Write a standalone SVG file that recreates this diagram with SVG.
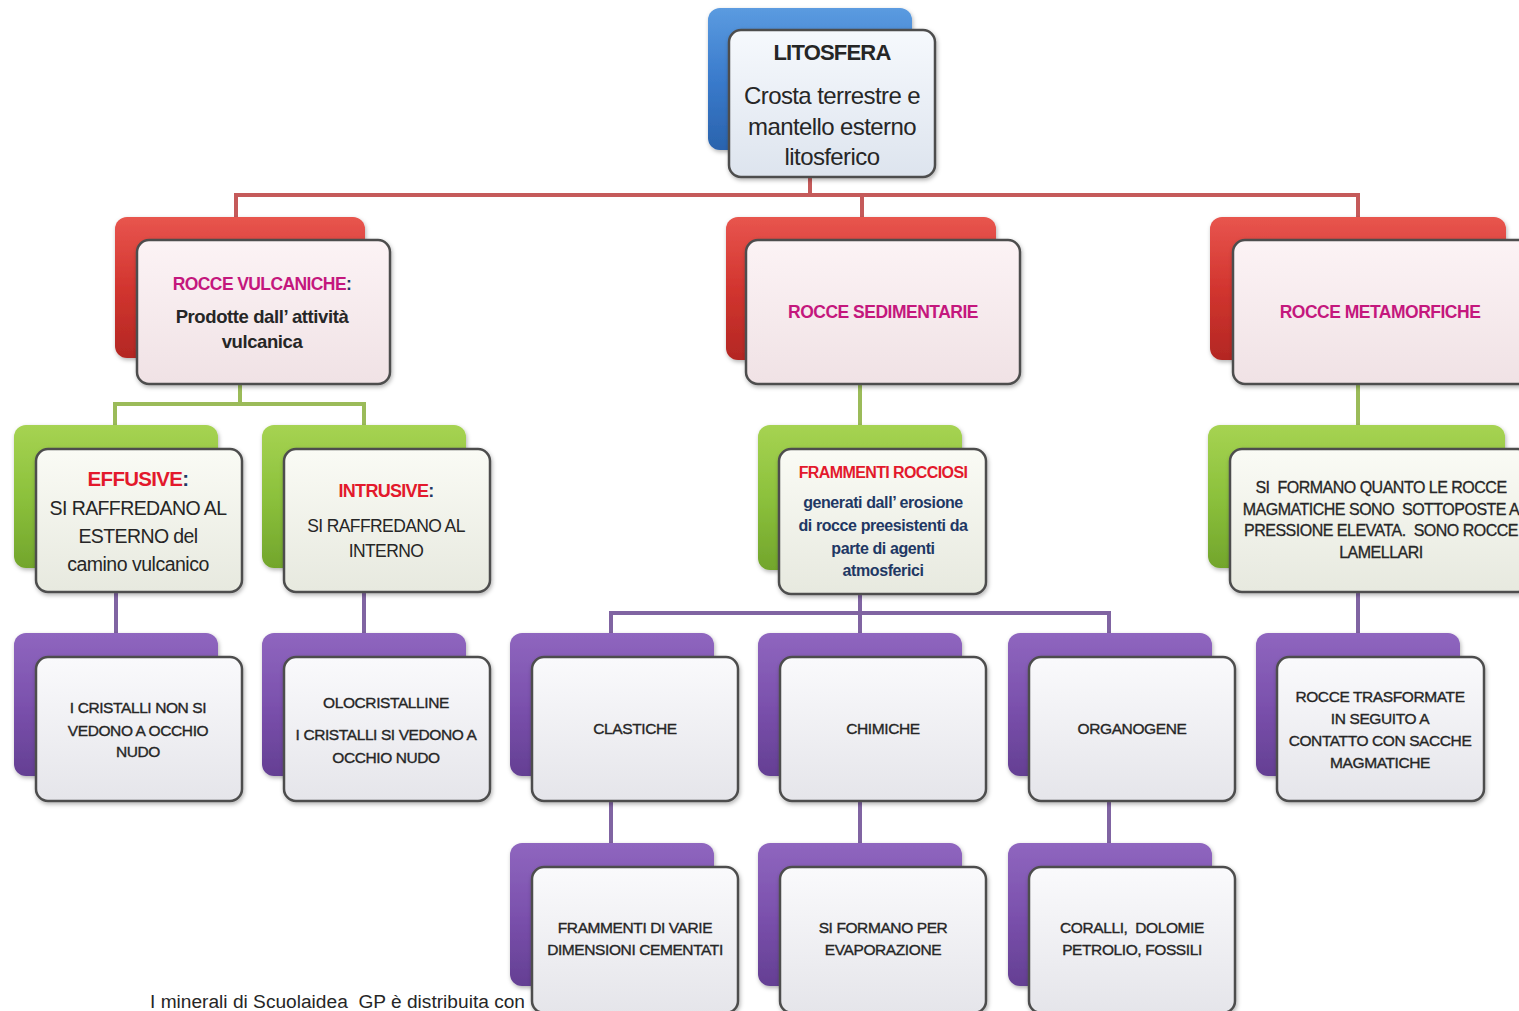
<svg xmlns="http://www.w3.org/2000/svg" width="1519" height="1011" viewBox="0 0 1519 1011">
<defs>
<linearGradient id="gBlue" x1="0" y1="0" x2="0" y2="1"><stop offset="0" stop-color="#5b9be0"/><stop offset="0.5" stop-color="#3a7bcc"/><stop offset="1" stop-color="#2a63ad"/></linearGradient>
<linearGradient id="gRed" x1="0" y1="0" x2="0" y2="1"><stop offset="0" stop-color="#e8554e"/><stop offset="0.5" stop-color="#d2352f"/><stop offset="1" stop-color="#b32723"/></linearGradient>
<linearGradient id="gGreen" x1="0" y1="0" x2="0" y2="1"><stop offset="0" stop-color="#a6d352"/><stop offset="0.5" stop-color="#8cc13c"/><stop offset="1" stop-color="#72a52c"/></linearGradient>
<linearGradient id="gPurple" x1="0" y1="0" x2="0" y2="1"><stop offset="0" stop-color="#8f66bf"/><stop offset="0.5" stop-color="#7b51ad"/><stop offset="1" stop-color="#643f93"/></linearGradient>
<linearGradient id="fBlue" x1="0" y1="0" x2="0" y2="1"><stop offset="0" stop-color="#f6f9fd"/><stop offset="1" stop-color="#dde4ee"/></linearGradient>
<linearGradient id="fRed" x1="0" y1="0" x2="0" y2="1"><stop offset="0" stop-color="#fcf3f5"/><stop offset="1" stop-color="#f0e2e5"/></linearGradient>
<linearGradient id="fGreen" x1="0" y1="0" x2="0" y2="1"><stop offset="0" stop-color="#fafbf5"/><stop offset="1" stop-color="#e7e9df"/></linearGradient>
<linearGradient id="fPurple" x1="0" y1="0" x2="0" y2="1"><stop offset="0" stop-color="#fafafc"/><stop offset="1" stop-color="#e5e5ea"/></linearGradient>
<filter id="sh" x="-10%" y="-10%" width="125%" height="125%"><feDropShadow dx="1" dy="2" stdDeviation="2" flood-color="#000" flood-opacity="0.3"/></filter>
</defs>
<style>
.back{stroke:none;filter:url(#sh)}
.front{stroke:#4d4d4d;stroke-width:2.5;filter:url(#sh)}
.conn{fill:none;stroke-width:4;stroke-linejoin:miter}
text{font-family:"Liberation Sans",Arial,sans-serif;text-anchor:middle;fill:#262626}
.b{font-weight:bold}
.mag{fill:#c4177d;font-weight:bold}
.red{fill:#e3192c;font-weight:bold}
.navy{fill:#1f3864;font-weight:bold}
.sm{font-size:15.5px;letter-spacing:-0.4px;stroke:#262626;stroke-width:0.35px}
.md{font-size:16px;letter-spacing:-0.5px;stroke:#262626;stroke-width:0.3px}
</style>
<rect width="1519" height="1011" fill="#ffffff"/>

<g id="connectors">
<path class="conn" stroke="#c55a5a" d="M810,177 V195 M236,219 V195 H1358 V219 M862,195 V219"/>
<path class="conn" stroke="#9bbb59" d="M240,384 V404 M115,427 V404 H364 V427 M860,384 V427 M1358,384 V427"/>
<path class="conn" stroke="#8064a2" d="M116,592 V635 M364,592 V635 M860,594 V613 M611,635 V613 H1109 V635 M860,613 V635 M1358,592 V635 M611,801 V845 M860,801 V845 M1109,801 V845"/>
</g>

<g id="node-litosfera">
<rect class="back" x="708" y="8" width="204" height="142" rx="12" fill="url(#gBlue)"/>
<rect class="front" x="729" y="30" width="206" height="147" rx="12" fill="url(#fBlue)"/>
<text x="832" y="60" class="b" font-size="22" letter-spacing="-0.8">LITOSFERA</text>
<text x="832" y="104" font-size="24" letter-spacing="-0.6">Crosta terrestre e</text>
<text x="832" y="135" font-size="24" letter-spacing="-0.6">mantello esterno</text>
<text x="832" y="165" font-size="24" letter-spacing="-0.6">litosferico</text>
</g>

<g id="node-vulcaniche">
<rect class="back" x="115" y="217" width="250" height="141" rx="12" fill="url(#gRed)"/>
<rect class="front" x="137" y="240" width="253" height="144" rx="12" fill="url(#fRed)"/>
<text x="262" y="290" font-size="17.5" letter-spacing="-0.6"><tspan class="mag">ROCCE VULCANICHE</tspan><tspan class="navy">:</tspan></text>
<text x="262" y="323" class="b" font-size="18.5" letter-spacing="-0.4">Prodotte dall’ attività</text>
<text x="262" y="348" class="b" font-size="18.5" letter-spacing="-0.4">vulcanica</text>
</g>

<g id="node-sedimentarie">
<rect class="back" x="726" y="217" width="270" height="143" rx="12" fill="url(#gRed)"/>
<rect class="front" x="746" y="240" width="274" height="144" rx="12" fill="url(#fRed)"/>
<text x="883" y="318" class="mag" font-size="17.5" letter-spacing="-0.5">ROCCE SEDIMENTARIE</text>
</g>

<g id="node-metamorfiche">
<rect class="back" x="1210" y="217" width="296" height="143" rx="12" fill="url(#gRed)"/>
<rect class="front" x="1233" y="240" width="300" height="144" rx="12" fill="url(#fRed)"/>
<text x="1380" y="318" class="mag" font-size="17.5" letter-spacing="-0.5">ROCCE METAMORFICHE</text>
</g>

<g id="node-effusive">
<rect class="back" x="14" y="425" width="204" height="143" rx="12" fill="url(#gGreen)"/>
<rect class="front" x="36" y="449" width="206" height="143" rx="12" fill="url(#fGreen)"/>
<text x="138" y="486" font-size="20.5" letter-spacing="-0.7"><tspan class="red">EFFUSIVE</tspan><tspan class="navy">:</tspan></text>
<text x="138" y="515" font-size="19.5" letter-spacing="-0.6">SI RAFFREDANO AL</text>
<text x="138" y="543" font-size="19.5" letter-spacing="-0.6">ESTERNO del</text>
<text x="138" y="571" font-size="19.5" letter-spacing="-0.5">camino vulcanico</text>
</g>

<g id="node-intrusive">
<rect class="back" x="262" y="425" width="204" height="143" rx="12" fill="url(#gGreen)"/>
<rect class="front" x="284" y="449" width="206" height="143" rx="12" fill="url(#fGreen)"/>
<text x="386" y="497" font-size="18" letter-spacing="-0.7"><tspan class="red">INTRUSIVE</tspan><tspan class="navy">:</tspan></text>
<text x="386" y="532" font-size="17.5" letter-spacing="-0.6">SI RAFFREDANO AL</text>
<text x="386" y="557" font-size="17.5" letter-spacing="-0.6">INTERNO</text>
</g>

<g id="node-frammenti">
<rect class="back" x="758" y="425" width="204" height="145" rx="12" fill="url(#gGreen)"/>
<rect class="front" x="779" y="449" width="207" height="145" rx="12" fill="url(#fGreen)"/>
<text x="883" y="478" class="red" font-size="16" letter-spacing="-0.6">FRAMMENTI ROCCIOSI</text>
<text x="883" y="508" class="navy" font-size="16" letter-spacing="-0.4">generati dall’ erosione</text>
<text x="883" y="531" class="navy" font-size="16" letter-spacing="-0.4">di rocce preesistenti da</text>
<text x="883" y="554" class="navy" font-size="16" letter-spacing="-0.4">parte di agenti</text>
<text x="883" y="576" class="navy" font-size="16" letter-spacing="-0.4">atmosferici</text>
</g>

<g id="node-formazione-metamorfiche">
<rect class="back" x="1208" y="425" width="297" height="143" rx="12" fill="url(#gGreen)"/>
<rect class="front" x="1230" y="449" width="300" height="143" rx="12" fill="url(#fGreen)"/>
<text x="1381" y="493" class="md" xml:space="preserve">SI  FORMANO QUANTO LE ROCCE</text>
<text x="1381" y="515" class="md" xml:space="preserve">MAGMATICHE SONO  SOTTOPOSTE A</text>
<text x="1381" y="536" class="md" xml:space="preserve">PRESSIONE ELEVATA.  SONO ROCCE</text>
<text x="1381" y="558" class="md">LAMELLARI</text>
</g>

<g id="node-cristalli-non">
<rect class="back" x="14" y="633" width="204" height="143" rx="12" fill="url(#gPurple)"/>
<rect class="front" x="36" y="657" width="206" height="144" rx="12" fill="url(#fPurple)"/>
<text x="138" y="713" class="sm">I CRISTALLI NON SI</text>
<text x="138" y="736" class="sm">VEDONO A OCCHIO</text>
<text x="138" y="757" class="sm">NUDO</text>
</g>

<g id="node-olocristalline">
<rect class="back" x="262" y="633" width="204" height="143" rx="12" fill="url(#gPurple)"/>
<rect class="front" x="284" y="657" width="206" height="144" rx="12" fill="url(#fPurple)"/>
<text x="386" y="708" class="sm">OLOCRISTALLINE</text>
<text x="386" y="740" class="sm">I CRISTALLI SI VEDONO A</text>
<text x="386" y="763" class="sm">OCCHIO NUDO</text>
</g>

<g id="node-clastiche">
<rect class="back" x="510" y="633" width="204" height="143" rx="12" fill="url(#gPurple)"/>
<rect class="front" x="532" y="657" width="206" height="144" rx="12" fill="url(#fPurple)"/>
<text x="635" y="734" class="sm">CLASTICHE</text>
</g>

<g id="node-chimiche">
<rect class="back" x="758" y="633" width="204" height="143" rx="12" fill="url(#gPurple)"/>
<rect class="front" x="780" y="657" width="206" height="144" rx="12" fill="url(#fPurple)"/>
<text x="883" y="734" class="sm">CHIMICHE</text>
</g>

<g id="node-organogene">
<rect class="back" x="1008" y="633" width="204" height="143" rx="12" fill="url(#gPurple)"/>
<rect class="front" x="1029" y="657" width="206" height="144" rx="12" fill="url(#fPurple)"/>
<text x="1132" y="734" class="sm">ORGANOGENE</text>
</g>

<g id="node-trasformate">
<rect class="back" x="1256" y="633" width="204" height="143" rx="12" fill="url(#gPurple)"/>
<rect class="front" x="1277" y="657" width="207" height="144" rx="12" fill="url(#fPurple)"/>
<text x="1380" y="702" class="sm">ROCCE TRASFORMATE</text>
<text x="1380" y="724" class="sm">IN SEGUITO A</text>
<text x="1380" y="746" class="sm">CONTATTO CON SACCHE</text>
<text x="1380" y="768" class="sm">MAGMATICHE</text>
</g>

<g id="node-frammenti-varie">
<rect class="back" x="510" y="843" width="204" height="143" rx="12" fill="url(#gPurple)"/>
<rect class="front" x="532" y="867" width="206" height="146" rx="12" fill="url(#fPurple)"/>
<text x="635" y="933" class="sm">FRAMMENTI DI VARIE</text>
<text x="635" y="955" class="sm">DIMENSIONI CEMENTATI</text>
</g>

<g id="node-evaporazione">
<rect class="back" x="758" y="843" width="204" height="143" rx="12" fill="url(#gPurple)"/>
<rect class="front" x="780" y="867" width="206" height="146" rx="12" fill="url(#fPurple)"/>
<text x="883" y="933" class="sm">SI FORMANO PER</text>
<text x="883" y="955" class="sm">EVAPORAZIONE</text>
</g>

<g id="node-coralli">
<rect class="back" x="1008" y="843" width="204" height="143" rx="12" fill="url(#gPurple)"/>
<rect class="front" x="1029" y="867" width="206" height="146" rx="12" fill="url(#fPurple)"/>
<text x="1132" y="933" class="sm" xml:space="preserve">CORALLI,  DOLOMIE</text>
<text x="1132" y="955" class="sm">PETROLIO, FOSSILI</text>
</g>

<text x="150" y="1008" font-size="18" textLength="375" lengthAdjust="spacingAndGlyphs" style="text-anchor:start" fill="#333" xml:space="preserve">I minerali di Scuolaidea  GP è distribuita con</text>
</svg>
